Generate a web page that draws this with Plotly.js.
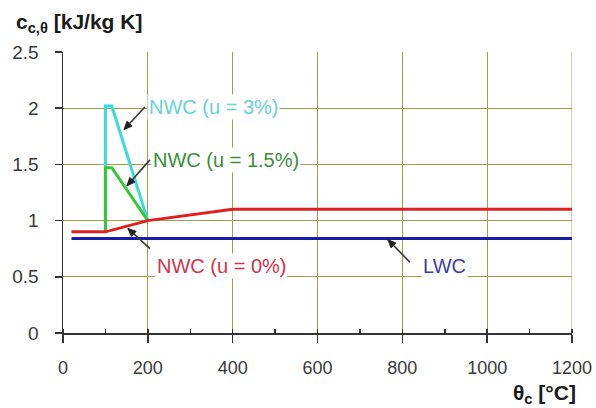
<!DOCTYPE html>
<html>
<head>
<meta charset="utf-8">
<script src="https://cdn.plot.ly/plotly-3.0.1.min.js"></script>
<style>
  html, body { margin: 0; padding: 0; background: #ffffff; }
  #chart { width: 596px; height: 408px; }
</style>
</head>
<body>
<div id="chart"></div>
<script>
// Specific heat of concrete vs. temperature (kJ/kg K)
const nwc0Temp   = [20, 100, 200, 400, 1200];
const nwc0Heat   = [0.9, 0.9, 1.0, 1.1, 1.1];
const nwc15Temp  = [100, 100, 115, 200];
const nwc15Heat  = [0.9, 1.47, 1.47, 1.0];
const nwc3Temp   = [100, 100, 115, 200];
const nwc3Heat   = [0.9, 2.02, 2.02, 1.0];
const lwcTemp    = [20, 1200];
const lwcHeat    = [0.84, 0.84];

const xTickVals  = [0, 200, 400, 600, 800, 1000, 1200];
const xTickText  = ['0', '200', '400', '600', '800', '1000', '1200'];
const yTickVals  = [0, 0.5, 1, 1.5, 2, 2.5];
const yTickText  = ['0', '0.5', '1', '1.5', '2', '2.5'];

const seriesNames = ['LWC', 'NWC (u = 3%)', 'NWC (u = 1.5%)', 'NWC (u = 0%)'];

const FONT = 'Liberation Sans, Arial, sans-serif';
const GRID = '#a0a04c';

const W = 596, H = 408;
const M = { l: 63, r: 24, t: 52, b: 75 };
const X_RANGE = [0, 1200], Y_RANGE = [0, 2.5];
const pxPerX = (W - M.l - M.r) / (X_RANGE[1] - X_RANGE[0]);
const pxPerY = (H - M.t - M.b) / (Y_RANGE[1] - Y_RANGE[0]);

const traces = [
  { x: lwcTemp, y: lwcHeat, name: seriesNames[0], mode: 'lines',
    line: { color: '#1c1ca4', width: 3 } },
  { x: nwc3Temp, y: nwc3Heat, name: seriesNames[1], mode: 'lines',
    line: { color: '#38dcdc', width: 3 } },
  { x: nwc15Temp, y: nwc15Heat, name: seriesNames[2], mode: 'lines',
    line: { color: '#34c834', width: 3 } },
  { x: nwc0Temp, y: nwc0Heat, name: seriesNames[3], mode: 'lines',
    line: { color: '#e02020', width: 3 } }
];

// label boxes (white background hides the grid behind the text)
function label(text, x, y, color) {
  return { x: x, y: y, xref: 'x', yref: 'y', text: text, showarrow: false,
    xanchor: 'left', yanchor: 'middle', bgcolor: '#ffffff', borderpad: 1,
    font: { family: FONT, size: 20, color: color } };
}

// pointer: a thin leader line from (tx,ty) to (hx,hy) with a filled head
function pointer(hx, hy, tx, ty) {
  const dxp = (hx - tx) * pxPerX, dyp = (hy - ty) * pxPerY;
  const len = Math.hypot(dxp, dyp);
  const ux = dxp / len, uy = dyp / len;
  const headLen = 8, half = 3.5;
  const bx = -ux * headLen, by = -uy * headLen;
  const p1x = hx + (bx - uy * half) / pxPerX, p1y = hy + (by + ux * half) / pxPerY;
  const p2x = hx + (bx + uy * half) / pxPerX, p2y = hy + (by - ux * half) / pxPerY;
  return [
    { type: 'line', xref: 'x', yref: 'y', x0: tx, y0: ty, x1: hx, y1: hy,
      line: { color: '#3a3a3a', width: 1.6 } },
    { type: 'path', xref: 'x', yref: 'y',
      path: `M ${hx} ${hy} L ${p1x} ${p1y} L ${p2x} ${p2y} Z`,
      fillcolor: '#222222', line: { color: '#222222', width: 1 } }
  ];
}

const annotations = [
  label(seriesNames[1], 198, 2.01, '#6ad2d2'),
  label(seriesNames[2], 208, 1.54, '#3a8e3a'),
  label(seriesNames[3], 218, 0.60, '#d0344a'),
  label(seriesNames[0], 845, 0.60, '#3c3ca6'),
  { xref: 'paper', yref: 'paper', x: -0.097, y: 1.05, xanchor: 'left', yanchor: 'bottom',
    showarrow: false, text: '<b>c<sub>c,θ</sub> [kJ/kg K]</b>',
    font: { family: FONT, size: 21, color: '#1a1a1a' } },
  { xref: 'paper', yref: 'paper', x: 1.012, y: -0.165, xanchor: 'right', yanchor: 'top',
    showarrow: false, text: '<b>θ<sub>c</sub> [°C]</b>',
    font: { family: FONT, size: 21, color: '#1a1a1a' } }
];

const shapes = [
  // right border of the grid at 1200
  { type: 'line', xref: 'x', yref: 'y', x0: 1200, x1: 1200, y0: 0, y1: 2.5,
    line: { color: GRID, width: 1 }, layer: 'below' },
  ...pointer(144, 1.81, 193, 2.01),
  ...pointer(151, 1.31, 205, 1.54),
  ...pointer(153, 0.93, 205, 0.75),
  ...pointer(766, 0.83, 818, 0.63)
];

const layout = {
  width: W, height: H,
  margin: M,
  paper_bgcolor: '#ffffff', plot_bgcolor: '#ffffff',
  showlegend: false,
  font: { family: FONT, size: 18, color: '#3a3a3a' },
  xaxis: {
    range: X_RANGE, tickvals: xTickVals, ticktext: xTickText,
    showgrid: true, gridcolor: GRID, gridwidth: 1,
    showline: true, linecolor: '#333333', linewidth: 1.5,
    ticks: 'outside', ticklen: 8, tickwidth: 1.5, tickcolor: '#333333',
    ticklabelstandoff: 10,
    minor: { dtick: 100, tick0: 0, ticks: 'inside', ticklen: 4, tickwidth: 1.5, tickcolor: '#333333', showgrid: false },
    zeroline: false, fixedrange: true
  },
  yaxis: {
    range: Y_RANGE, tickvals: yTickVals, ticktext: yTickText,
    showgrid: true, gridcolor: GRID, gridwidth: 1,
    showline: true, linecolor: '#333333', linewidth: 1.5,
    ticks: 'outside', ticklen: 7, tickwidth: 1.5, tickcolor: '#333333',
    ticklabelstandoff: 12,
    tickfont: { size: 19 },
    zeroline: false, fixedrange: true
  },
  shapes: shapes,
  annotations: annotations
};

Plotly.newPlot('chart', traces, layout, { displayModeBar: false, staticPlot: true });
</script>
</body>
</html>
